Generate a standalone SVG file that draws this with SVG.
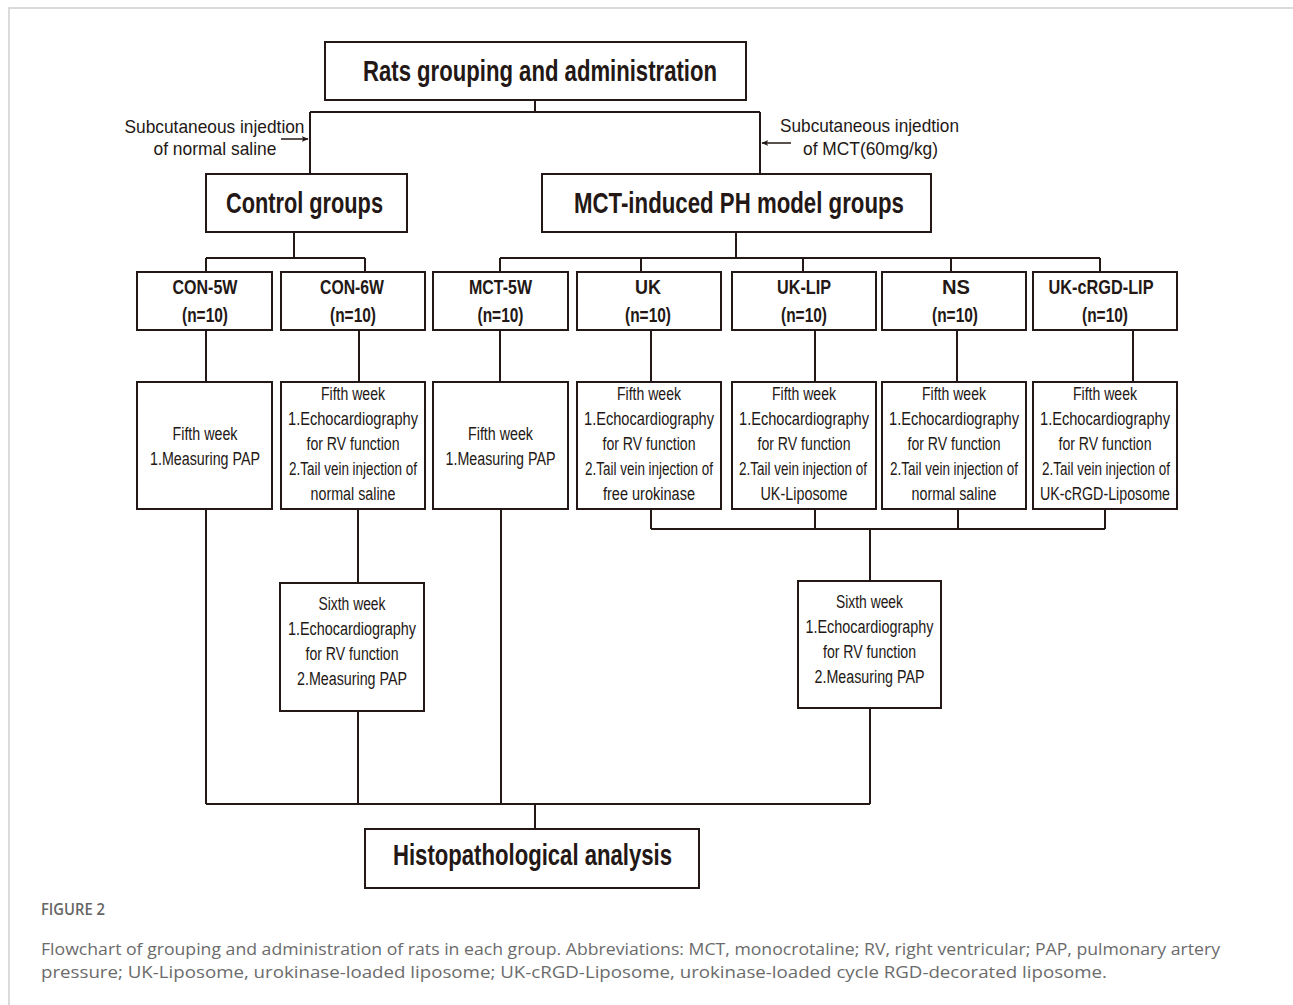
<svg xmlns="http://www.w3.org/2000/svg" width="1293" height="1005" viewBox="0 0 1293 1005">
<defs>
<marker id="ah" viewBox="0 0 10 10" refX="9" refY="5" markerWidth="7" markerHeight="7" orient="auto" markerUnits="userSpaceOnUse">
<path d="M0,1 L10,5 L0,9 L2.5,5 Z" fill="#231815"/>
</marker>
</defs>
<style>
.box{fill:#fff;stroke:#231815;stroke-width:2}
.ln{fill:none;stroke:#231815;stroke-width:2}
.ar{fill:none;stroke:#231815;stroke-width:1.5}
.t{font-family:"Liberation Sans Narrow","Liberation Sans",Arial,sans-serif;fill:#231815;text-anchor:middle}
.b{font-weight:bold}
.h1{font-size:30px}
.h2{font-size:20px}
.s{font-size:18px}
.s2{font-size:17.5px}
.a{font-size:19px}
.fig{font-family:"Open Sans","Noto Sans",sans-serif;fill:#666;font-size:17px;font-weight:600}
.cap{font-family:"Open Sans","Noto Sans",sans-serif;fill:#6b6b6b;font-size:16px}
</style>
<rect width="1293" height="1005" fill="#fff"/>
<path d="M9,1005 V8 H1293" fill="none" stroke="#cfcfcf" stroke-width="1.5"/>

<g id="connectors">
<path class="ln" d="M535,100 V112 M310,112 H760 M310,112 V174 M760,112 V174"/>
<path class="ln" d="M294,232 V258 M206,258 H365 M206,258 V272 M365,258 V272"/>
<path class="ln" d="M736,232 V258 M500,258 H1100 M500,258 V272 M641,258 V272 M803,258 V272 M951,258 V272 M1100,258 V272"/>
<path class="ln" d="M206,330 V382 M359,330 V382 M500,330 V382 M651,330 V382 M815,330 V382 M957,330 V382 M1133,330 V382"/>
<path class="ln" d="M206,509 V804 M358,509 V583 M358,711 V804 M501,509 V804 M651,509 V529 M815,509 V529 M958,509 V529 M1105,509 V529 M651,529 H1105 M870,529 V581 M870,708 V804 M206,804 H870 M535,804 V829"/>
<path class="ar" d="M281,139 H308" marker-end="url(#ah)"/>
<path class="ar" d="M791,143 H762" marker-end="url(#ah)"/>
</g>

<g id="title">
<rect class="box" x="325" y="42" width="421" height="58"/>
<text class="t b h1" x="540" y="81" textLength="354" lengthAdjust="spacingAndGlyphs">Rats grouping and administration</text>
</g>

<g id="note-left">
<text class="t a" x="214.5" y="133" textLength="180" lengthAdjust="spacingAndGlyphs">Subcutaneous injedtion</text>
<text class="t a" x="215" y="155" textLength="123" lengthAdjust="spacingAndGlyphs">of normal saline</text>
</g>
<g id="note-right">
<text class="t a" x="869.5" y="132" textLength="179" lengthAdjust="spacingAndGlyphs">Subcutaneous injedtion</text>
<text class="t a" x="870.5" y="155" textLength="135" lengthAdjust="spacingAndGlyphs">of MCT(60mg/kg)</text>
</g>

<g id="control">
<rect class="box" x="206" y="174" width="201" height="58"/>
<text class="t b h1" x="304.5" y="213" textLength="157" lengthAdjust="spacingAndGlyphs">Control groups</text>
</g>
<g id="mct">
<rect class="box" x="542" y="174" width="389" height="58"/>
<text class="t b h1" x="739" y="213" textLength="330" lengthAdjust="spacingAndGlyphs">MCT-induced PH model groups</text>
</g>

<g id="con5w">
<rect class="box" x="137" y="272" width="135" height="58"/>
<text class="t b h2" x="205" y="294" textLength="65" lengthAdjust="spacingAndGlyphs">CON-5W</text>
<text class="t b h2" x="205" y="322" textLength="46" lengthAdjust="spacingAndGlyphs">(n=10)</text>
</g>
<g id="con6w">
<rect class="box" x="281" y="272" width="144" height="58"/>
<text class="t b h2" x="352" y="294" textLength="64" lengthAdjust="spacingAndGlyphs">CON-6W</text>
<text class="t b h2" x="353" y="322" textLength="46" lengthAdjust="spacingAndGlyphs">(n=10)</text>
</g>
<g id="mct5w">
<rect class="box" x="433" y="272" width="135" height="58"/>
<text class="t b h2" x="500.5" y="294" textLength="63" lengthAdjust="spacingAndGlyphs">MCT-5W</text>
<text class="t b h2" x="500.5" y="322" textLength="46" lengthAdjust="spacingAndGlyphs">(n=10)</text>
</g>
<g id="uk">
<rect class="box" x="577" y="272" width="144" height="58"/>
<text class="t b h2" x="648" y="294" textLength="26" lengthAdjust="spacingAndGlyphs">UK</text>
<text class="t b h2" x="648" y="322" textLength="46" lengthAdjust="spacingAndGlyphs">(n=10)</text>
</g>
<g id="uklip">
<rect class="box" x="732" y="272" width="144" height="58"/>
<text class="t b h2" x="804" y="294" textLength="54" lengthAdjust="spacingAndGlyphs">UK-LIP</text>
<text class="t b h2" x="804" y="322" textLength="46" lengthAdjust="spacingAndGlyphs">(n=10)</text>
</g>
<g id="ns">
<rect class="box" x="882" y="272" width="144" height="58"/>
<text class="t b h2" x="956" y="294" textLength="28" lengthAdjust="spacingAndGlyphs">NS</text>
<text class="t b h2" x="955" y="322" textLength="46" lengthAdjust="spacingAndGlyphs">(n=10)</text>
</g>
<g id="ukcrgdlip">
<rect class="box" x="1033" y="272" width="144" height="58"/>
<text class="t b h2" x="1101" y="294" textLength="105" lengthAdjust="spacingAndGlyphs">UK-cRGD-LIP</text>
<text class="t b h2" x="1105" y="322" textLength="46" lengthAdjust="spacingAndGlyphs">(n=10)</text>
</g>

<g id="con5w-week5">
<rect class="box" x="137" y="382" width="135" height="127"/>
<text class="t s" x="205" y="440" textLength="65" lengthAdjust="spacingAndGlyphs">Fifth week</text>
<text class="t s" x="205" y="465" textLength="110" lengthAdjust="spacingAndGlyphs">1.Measuring PAP</text>
</g>
<g id="con6w-week5">
<rect class="box" x="281" y="382" width="144" height="127"/>
<text class="t s" x="353" y="400" textLength="64" lengthAdjust="spacingAndGlyphs">Fifth week</text>
<text class="t s" x="353" y="425" textLength="130" lengthAdjust="spacingAndGlyphs">1.Echocardiography</text>
<text class="t s" x="353" y="450" textLength="93" lengthAdjust="spacingAndGlyphs">for RV function</text>
<text class="t s2" x="353" y="475" textLength="128" lengthAdjust="spacingAndGlyphs">2.Tail vein injection of</text>
<text class="t s" x="353" y="500" textLength="85" lengthAdjust="spacingAndGlyphs">normal saline</text>
</g>
<g id="mct5w-week5">
<rect class="box" x="433" y="382" width="135" height="127"/>
<text class="t s" x="500.5" y="440" textLength="65" lengthAdjust="spacingAndGlyphs">Fifth week</text>
<text class="t s" x="500.5" y="465" textLength="110" lengthAdjust="spacingAndGlyphs">1.Measuring PAP</text>
</g>
<g id="uk-week5">
<rect class="box" x="577" y="382" width="144" height="127"/>
<text class="t s" x="649" y="400" textLength="64" lengthAdjust="spacingAndGlyphs">Fifth week</text>
<text class="t s" x="649" y="425" textLength="130" lengthAdjust="spacingAndGlyphs">1.Echocardiography</text>
<text class="t s" x="649" y="450" textLength="93" lengthAdjust="spacingAndGlyphs">for RV function</text>
<text class="t s2" x="649" y="475" textLength="128" lengthAdjust="spacingAndGlyphs">2.Tail vein injection of</text>
<text class="t s" x="649" y="500" textLength="92" lengthAdjust="spacingAndGlyphs">free urokinase</text>
</g>
<g id="uklip-week5">
<rect class="box" x="732" y="382" width="144" height="127"/>
<text class="t s" x="804" y="400" textLength="64" lengthAdjust="spacingAndGlyphs">Fifth week</text>
<text class="t s" x="804" y="425" textLength="130" lengthAdjust="spacingAndGlyphs">1.Echocardiography</text>
<text class="t s" x="804" y="450" textLength="93" lengthAdjust="spacingAndGlyphs">for RV function</text>
<text class="t s2" x="803" y="475" textLength="128" lengthAdjust="spacingAndGlyphs">2.Tail vein injection of</text>
<text class="t s" x="804" y="500" textLength="87" lengthAdjust="spacingAndGlyphs">UK-Liposome</text>
</g>
<g id="ns-week5">
<rect class="box" x="882" y="382" width="144" height="127"/>
<text class="t s" x="954" y="400" textLength="64" lengthAdjust="spacingAndGlyphs">Fifth week</text>
<text class="t s" x="954" y="425" textLength="130" lengthAdjust="spacingAndGlyphs">1.Echocardiography</text>
<text class="t s" x="954" y="450" textLength="93" lengthAdjust="spacingAndGlyphs">for RV function</text>
<text class="t s2" x="954" y="475" textLength="128" lengthAdjust="spacingAndGlyphs">2.Tail vein injection of</text>
<text class="t s" x="954" y="500" textLength="85" lengthAdjust="spacingAndGlyphs">normal saline</text>
</g>
<g id="ukcrgdlip-week5">
<rect class="box" x="1033" y="382" width="144" height="127"/>
<text class="t s" x="1105" y="400" textLength="64" lengthAdjust="spacingAndGlyphs">Fifth week</text>
<text class="t s" x="1105" y="425" textLength="130" lengthAdjust="spacingAndGlyphs">1.Echocardiography</text>
<text class="t s" x="1105" y="450" textLength="93" lengthAdjust="spacingAndGlyphs">for RV function</text>
<text class="t s2" x="1106" y="475" textLength="128" lengthAdjust="spacingAndGlyphs">2.Tail vein injection of</text>
<text class="t s" x="1105" y="500" textLength="130" lengthAdjust="spacingAndGlyphs">UK-cRGD-Liposome</text>
</g>

<g id="con6w-week6">
<rect class="box" x="280" y="583" width="144" height="128"/>
<text class="t s" x="352" y="610" textLength="67" lengthAdjust="spacingAndGlyphs">Sixth week</text>
<text class="t s" x="352" y="635" textLength="128" lengthAdjust="spacingAndGlyphs">1.Echocardiography</text>
<text class="t s" x="352" y="660" textLength="93" lengthAdjust="spacingAndGlyphs">for RV function</text>
<text class="t s" x="352" y="685" textLength="110" lengthAdjust="spacingAndGlyphs">2.Measuring PAP</text>
</g>
<g id="mct-week6">
<rect class="box" x="798" y="581" width="143" height="127"/>
<text class="t s" x="869.5" y="608" textLength="67" lengthAdjust="spacingAndGlyphs">Sixth week</text>
<text class="t s" x="869.5" y="633" textLength="128" lengthAdjust="spacingAndGlyphs">1.Echocardiography</text>
<text class="t s" x="869.5" y="658" textLength="93" lengthAdjust="spacingAndGlyphs">for RV function</text>
<text class="t s" x="869.5" y="683" textLength="110" lengthAdjust="spacingAndGlyphs">2.Measuring PAP</text>
</g>

<g id="histo">
<rect class="box" x="365" y="829" width="334" height="59"/>
<text class="t b h1" x="532.5" y="865" textLength="279" lengthAdjust="spacingAndGlyphs">Histopathological analysis</text>
</g>

<g id="caption">
<text class="fig" x="41" y="915" textLength="64" lengthAdjust="spacingAndGlyphs">FIGURE 2</text>
<text class="cap" x="41" y="955" textLength="1179" lengthAdjust="spacingAndGlyphs">Flowchart of grouping and administration of rats in each group. Abbreviations: MCT, monocrotaline; RV, right ventricular; PAP, pulmonary artery</text>
<text class="cap" x="41" y="978" textLength="1066" lengthAdjust="spacingAndGlyphs">pressure; UK-Liposome, urokinase-loaded liposome; UK-cRGD-Liposome, urokinase-loaded cycle RGD-decorated liposome.</text>
</g>
</svg>
